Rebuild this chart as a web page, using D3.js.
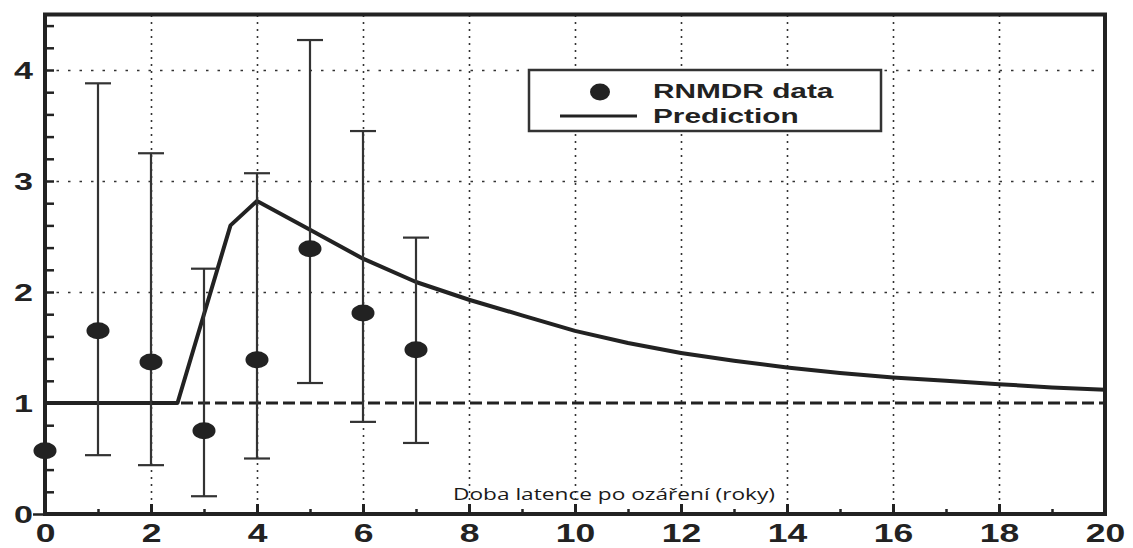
<!DOCTYPE html>
<html>
<head>
<meta charset="utf-8">
<script src="https://cdn.jsdelivr.net/npm/d3@7"></script>
<style>
  html, body { margin: 0; padding: 0; background: #fff; }
  svg { display: block; }
</style>
</head>
<body>
<div id="chart"></div>
<script>
// -- data --
var years = [0, 1, 2, 3, 4, 5, 6, 7];
var rnmdr = [0.57, 1.65, 1.37, 0.75, 1.39, 2.39, 1.81, 1.48];
var err_low = [null, 0.53, 0.44, 0.16, 0.50, 1.18, 0.83, 0.64];
var err_high = [null, 3.88, 3.25, 2.21, 3.07, 4.27, 3.45, 2.49];

var pred_years = [0, 2.5, 3.5, 4, 5, 6, 7, 8, 9, 10, 11, 12, 13, 14, 15, 16, 17, 18, 19, 20];
var pred_values = [1, 1, 2.6, 2.82, 2.56, 2.3, 2.09, 1.93, 1.79, 1.65, 1.54, 1.45, 1.38, 1.32, 1.27, 1.23, 1.2, 1.17, 1.14, 1.12];

var ref_value = 1;

var x_ticks = [0, 2, 4, 6, 8, 10, 12, 14, 16, 18, 20];
var y_ticks = [0, 1, 2, 3, 4];

var x_title = "Doba latence po ozáření (roky)";
var legend_labels = ["RNMDR data", "Prediction"];

// == d3.js boilerplate ==
var W = 1133, H = 548;
var margin = { top: 16, right: 28, bottom: 34, left: 45 };
var ink = "#222";
var stretch = 1.42; // the scan is squashed wider than tall

var svg = d3.select("#chart")
  .append("svg")
  .attr("width", W)
  .attr("height", H);

svg.append("rect").attr("width", W).attr("height", H).attr("fill", "#fff");

var x = d3.scaleLinear()
  .domain([0, 20])
  .range([margin.left, W - margin.right]);

var y = d3.scaleLinear()
  .domain([0, 4.5])
  .range([H - margin.bottom, H - margin.bottom - 4.5 * 111]);

// -- grid lines --
svg.append("g")
  .attr("transform", "translate(0," + y(0) + ")")
  .call(d3.axisBottom(x).tickValues(x_ticks.slice(1, -1)).tickSize(-(y(0) - y(4.5))).tickFormat(""))
  .call(function (g) { g.select(".domain").remove(); })
  .selectAll("line")
  .attr("stroke", "#333")
  .attr("stroke-width", 1.6)
  .attr("stroke-dasharray", "2,5");

svg.append("g")
  .attr("transform", "translate(" + x(0) + ",0)")
  .call(d3.axisLeft(y).tickValues(y_ticks.slice(2)).tickSize(-(x(20) - x(0))).tickFormat(""))
  .call(function (g) { g.select(".domain").remove(); })
  .selectAll("line")
  .attr("stroke", "#333")
  .attr("stroke-width", 1.6)
  .attr("stroke-dasharray", "2.5,9");

// reference ratio = 1
svg.append("line")
  .attr("x1", x(0)).attr("x2", x(20))
  .attr("y1", y(ref_value)).attr("y2", y(ref_value))
  .attr("stroke", ink)
  .attr("stroke-width", 3)
  .attr("stroke-dasharray", "12,5");

// -- minor ticks (inside) --
svg.append("g")
  .attr("transform", "translate(0," + y(0) + ")")
  .call(d3.axisBottom(x).tickValues(d3.range(1, 20)).tickSize(-5).tickFormat(""))
  .call(function (g) { g.select(".domain").remove(); })
  .selectAll("line").attr("stroke", ink).attr("stroke-width", 2.5);

svg.append("g")
  .attr("transform", "translate(0," + y(0) + ")")
  .call(d3.axisBottom(x).tickValues(x_ticks.slice(1, -1)).tickSize(-10).tickFormat(""))
  .call(function (g) { g.select(".domain").remove(); })
  .selectAll("line").attr("stroke", ink).attr("stroke-width", 3);

svg.append("g")
  .attr("transform", "translate(" + x(0) + ",0)")
  .call(d3.axisLeft(y).tickValues(d3.range(1, 23).map(function (i) { return i * 0.2; })).tickSize(-9).tickFormat(""))
  .call(function (g) { g.select(".domain").remove(); })
  .selectAll("line").attr("stroke", ink).attr("stroke-width", 2.5);

// outer tick at zero
svg.append("g")
  .attr("transform", "translate(" + x(0) + ",0)")
  .call(d3.axisLeft(y).tickValues([0]).tickSize(12).tickFormat(""))
  .call(function (g) { g.select(".domain").remove(); })
  .selectAll("line").attr("stroke", ink).attr("stroke-width", 2.5);

// -- frame --
svg.append("rect")
  .attr("x", x(0)).attr("y", y(4.5))
  .attr("width", x(20) - x(0))
  .attr("height", y(0) - y(4.5))
  .attr("fill", "none")
  .attr("stroke", ink)
  .attr("stroke-width", 4);

// -- tick labels --
var x_axis = svg.append("g")
  .attr("transform", "translate(0," + y(0) + ")")
  .call(d3.axisBottom(x).tickValues(x_ticks).tickSize(0).tickFormat(d3.format("d")));
x_axis.select(".domain").remove();
x_axis.selectAll("text")
  .attr("y", 28)
  .attr("dy", null)
  .attr("transform", "scale(" + stretch + ",1)")
  .attr("fill", ink)
  .style("font-family", "'Liberation Sans', Arial, sans-serif")
  .style("font-weight", "bold")
  .style("font-size", "25px");

var y_axis = svg.append("g")
  .attr("transform", "translate(" + x(0) + ",0)")
  .call(d3.axisLeft(y).tickValues(y_ticks).tickSize(0).tickFormat(d3.format("d")));
y_axis.select(".domain").remove();
y_axis.selectAll("text")
  .attr("x", -12 / stretch)
  .attr("dy", "0.36em")
  .attr("transform", "scale(" + stretch + ",1)")
  .attr("fill", ink)
  .style("font-family", "'Liberation Sans', Arial, sans-serif")
  .style("font-weight", "bold")
  .style("font-size", "24px");

// -- prediction --
var pred = pred_years.map(function (d, i) { return [d, pred_values[i]]; });
svg.append("path")
  .datum(pred)
  .attr("d", d3.line().x(function (d) { return x(d[0]); }).y(function (d) { return y(d[1]); }))
  .attr("fill", "none")
  .attr("stroke", ink)
  .attr("stroke-width", 4)
  .attr("stroke-linejoin", "round");

// -- RNMDR data with error bars --
var data = years.map(function (d, i) {
  return { year: d, value: rnmdr[i], lo: err_low[i], hi: err_high[i] };
});
var bars = data.filter(function (d) { return d.lo != null; });

svg.selectAll("line.err")
  .data(bars)
  .enter()
  .append("line")
  .attr("class", "err")
  .attr("x1", function (d) { return x(d.year); })
  .attr("x2", function (d) { return x(d.year); })
  .attr("y1", function (d) { return y(d.lo); })
  .attr("y2", function (d) { return y(d.hi); })
  .attr("stroke", "#333")
  .attr("stroke-width", 2.2);

["lo", "hi"].forEach(function (k) {
  svg.selectAll("line.cap-" + k)
    .data(bars)
    .enter()
    .append("line")
    .attr("class", "cap-" + k)
    .attr("x1", function (d) { return x(d.year) - 13; })
    .attr("x2", function (d) { return x(d.year) + 13; })
    .attr("y1", function (d) { return y(d[k]); })
    .attr("y2", function (d) { return y(d[k]); })
    .attr("stroke", "#333")
    .attr("stroke-width", 2.2);
});

svg.selectAll("ellipse.pt")
  .data(data)
  .enter()
  .append("ellipse")
  .attr("class", "pt")
  .attr("cx", function (d) { return x(d.year); })
  .attr("cy", function (d) { return y(d.value); })
  .attr("rx", 11.5)
  .attr("ry", 8.5)
  .attr("fill", ink);

// -- axis title --
svg.append("text")
  .text(x_title)
  .attr("x", 453)
  .attr("y", 500)
  .attr("textLength", 322)
  .attr("lengthAdjust", "spacingAndGlyphs")
  .attr("fill", "#1a1a1a")
  .style("font-family", "'Open Sans', 'Noto Sans', sans-serif")
  .style("font-size", "17px");

// -- legend --
var legend = svg.append("g");
legend.append("rect")
  .attr("x", 529).attr("y", 70)
  .attr("width", 352).attr("height", 61)
  .attr("fill", "#fff")
  .attr("stroke", "#333")
  .attr("stroke-width", 2.5);

legend.append("ellipse")
  .attr("cx", 600).attr("cy", 92)
  .attr("rx", 10).attr("ry", 8.5)
  .attr("fill", ink);

legend.append("line")
  .attr("x1", 560).attr("x2", 637)
  .attr("y1", 116).attr("y2", 116)
  .attr("stroke", ink)
  .attr("stroke-width", 3);

legend.selectAll("text")
  .data(legend_labels)
  .enter()
  .append("text")
  .text(function (d) { return d; })
  .attr("transform", function (d, i) { return "translate(653," + (98 + i * 25) + ") scale(" + stretch + ",1)"; })
  .attr("fill", ink)
  .style("font-family", "'Liberation Sans', Arial, sans-serif")
  .style("font-weight", "bold")
  .style("font-size", "21px");
</script>
</body>
</html>
